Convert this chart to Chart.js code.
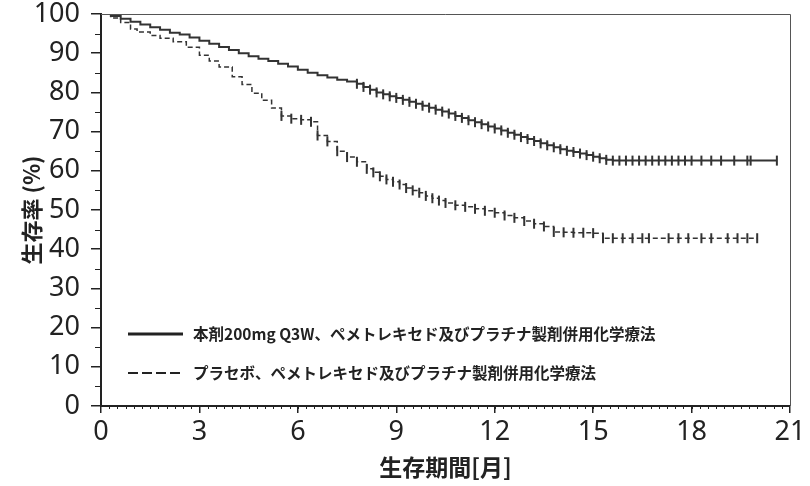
<!DOCTYPE html>
<html>
<head>
<meta charset="utf-8">
<script src="https://cdn.jsdelivr.net/npm/chart.js@4"></script>
<style>
  html, body { margin: 0; background: #fff; }
  #wrap { width: 810px; height: 486px; }
</style>
</head>
<body>
<div id="wrap"><canvas id="km"></canvas></div>
<script>
// months / survival %
const monthsDrug = [0, 0.3, 0.6, 0.9, 1.2, 1.5, 1.8, 2.1, 2.4, 2.7, 3.0, 3.3, 3.6, 3.9, 4.2, 4.5, 4.8, 5.1, 5.4, 5.7,
    6.0, 6.3, 6.6, 6.9, 7.2, 7.5, 7.8, 8.0, 8.2, 8.4, 8.6, 8.8, 9.0, 9.2, 9.4, 9.6, 9.8, 10.0, 10.2, 10.4, 10.6,
    10.8, 11.0, 11.2, 11.4, 11.6, 11.8, 12.0, 12.2, 12.4, 12.6, 12.8, 13.0, 13.2, 13.4, 13.6, 13.8, 14.0, 14.2,
    14.4, 14.6, 14.8, 15.0, 15.2, 15.4, 15.6, 15.8, 16.0, 16.2, 16.4, 16.6, 16.8, 17.0, 17.2, 17.4, 17.6, 17.8,
    18.0, 18.3, 18.6, 18.9, 19.3, 19.7, 19.8, 20.6];
const survDrug = [100, 99.5, 98.8, 98.0, 97.3, 96.6, 96.0, 95.2, 94.8, 94.0, 93.2, 92.4, 91.6, 90.8, 90.0, 89.2, 88.6, 88.0, 87.3, 86.6,
    85.8, 85.0, 84.4, 83.8, 83.2, 82.8, 82.2, 81.4, 80.7, 80.0, 79.5, 79.0, 78.6, 78.1, 77.6, 77.1, 76.6, 76.1, 75.6, 75.1, 74.6,
    74.0, 73.5, 72.9, 72.4, 71.9, 71.3, 70.8, 70.3, 69.7, 69.2, 68.6, 68.1, 67.6, 67.0, 66.5, 66.0, 65.5, 65.1,
    64.8, 64.4, 64.0, 63.6, 63.2, 62.8, 62.6, 62.6, 62.6, 62.6, 62.6, 62.6, 62.6, 62.6, 62.6, 62.6, 62.6, 62.6,
    62.6, 62.6, 62.6, 62.6, 62.6, 62.6, 62.6, 62.6];

const monthsPlacebo = [0, 0.3, 0.6, 0.9, 1.1, 1.5, 1.8, 2.2, 2.6, 3.0, 3.3, 3.6, 4.0, 4.3, 4.6, 4.9, 5.2, 5.5, 5.8, 6.1,
    6.4, 6.6, 6.9, 7.2, 7.5, 7.8, 8.1, 8.3, 8.5, 8.7, 8.9, 9.1, 9.3, 9.5, 9.7, 9.9, 10.1, 10.3, 10.5, 10.8, 11.1,
    11.4, 11.7, 12.0, 12.3, 12.6, 12.9, 13.2, 13.5, 13.8, 14.1, 14.4, 14.7, 15.0, 15.3, 15.6, 15.9, 16.2, 16.5,
    16.7, 17.3, 17.6, 17.9, 18.3, 18.6, 19.1, 19.4, 19.7, 20.0];
const survPlacebo = [100, 99.0, 97.8, 96.2, 95.4, 94.5, 93.8, 92.9, 91.5, 89.5, 88.0, 86.5, 84.0, 82.0, 79.8, 78.0, 76.0, 74.0, 73.3, 73.0,
    72.5, 69.0, 67.5, 65.0, 63.5, 62.3, 60.5, 59.6, 58.6, 57.8, 57.2, 56.5, 55.6, 55.0, 54.4, 53.6, 53.0, 52.4, 51.8, 51.2, 50.8,
    50.3, 49.8, 49.3, 48.6, 48.0, 47.2, 46.5, 45.8, 44.4, 44.3, 44.2, 44.2, 44.1, 42.8, 42.8, 42.8, 42.8, 42.8,
    42.8, 42.8, 42.8, 42.8, 42.8, 42.8, 42.8, 42.8, 42.8, 42.8];

const seriesLabels = [
    '本剤200mg Q3W、ペメトレキセド及びプラチナ製剤併用化学療法',
    'プラセボ、ペメトレキセド及びプラチナ製剤併用化学療法',
];
const xTitle = '生存期間[月]';
const yTitle = '生存率 (%)';

const INK = '#222222';
const LINE = '#333333';

const toXY = (xs, ys) => xs.map((x, i) => ({ x, y: ys[i] }));

// frame, minor ticks and in-plot legend
const decorations = {
    id: 'decorations',
    afterDraw(chart) {
        const { ctx, chartArea: a, scales: { x, y } } = chart;
        ctx.save();
        ctx.strokeStyle = '#555';
        ctx.lineWidth = 1;
        ctx.beginPath();
        ctx.moveTo(a.left, a.top + 0.5); ctx.lineTo(a.right + 0.5, a.top + 0.5);
        ctx.lineTo(a.right + 0.5, a.bottom);
        ctx.stroke();

        ctx.strokeStyle = INK;
        ctx.beginPath();
        for (let v = 5; v < 100; v += 10) {
            const py = Math.round(y.getPixelForValue(v)) + 0.5;
            ctx.moveTo(a.left - 6, py); ctx.lineTo(a.left, py);
        }
        for (let m = 0.25; m < 21; m += 0.25) {
            const px = Math.round(x.getPixelForValue(m)) + 0.5;
            ctx.moveTo(px, a.bottom); ctx.lineTo(px, a.bottom + 3);
        }
        ctx.stroke();

        // legend
        const lx = a.left + 27, lw = 55;
        const rows = [a.bottom - 72, a.bottom - 33];
        ctx.font = 'bold 15.5px "Noto Sans CJK JP"';
        ctx.fillStyle = INK;
        ctx.textBaseline = 'middle';
        rows.forEach((ry, i) => {
            ctx.beginPath();
            ctx.lineWidth = i === 0 ? 3 : 2;
            ctx.setLineDash(i === 0 ? [] : [10, 4]);
            ctx.moveTo(lx, ry); ctx.lineTo(lx + lw, ry);
            ctx.stroke();
            ctx.setLineDash([]);
            ctx.fillText(seriesLabels[i], lx + lw + 10, ry);
        });
        ctx.restore();
    },
};

new Chart(document.getElementById('km'), {
    type: 'line',
    data: {
        datasets: [
            {
                label: seriesLabels[0],
                data: toXY(monthsDrug, survDrug),
                stepped: true,
                borderColor: LINE,
                borderWidth: 2,
                pointStyle: 'line',
                rotation: 90,
                pointRadius: (c) => (c.raw && c.raw.x >= 7.8 ? 5 : 0),
                pointBorderColor: LINE,
                pointBorderWidth: 2,
            },
            {
                label: seriesLabels[1],
                data: toXY(monthsPlacebo, survPlacebo),
                stepped: true,
                borderColor: LINE,
                borderWidth: 1.5,
                borderDash: [5, 3],
                pointStyle: 'line',
                rotation: 90,
                pointRadius: (c) => (c.raw && c.raw.x >= 5.5 ? 5 : 0),
                pointBorderColor: LINE,
                pointBorderWidth: 2,
            },
        ],
    },
    options: {
        responsive: true,
        maintainAspectRatio: false,
        animation: false,
        layout: { padding: { top: 14, right: 20, left: 0, bottom: 0 } },
        plugins: {
            legend: { display: false },
            tooltip: { enabled: false },
        },
        scales: {
            x: {
                type: 'linear',
                min: 0,
                max: 21,
                afterFit: (s) => { s.height = 80; },
                border: { color: INK, width: 2 },
                grid: { drawOnChartArea: false, tickLength: 7, color: INK, lineWidth: 1.5 },
                ticks: {
                    stepSize: 3,
                    padding: 3,
                    color: INK,
                    font: { family: '"Noto Sans"', size: 27 },
                    maxRotation: 0,
                },
                title: {
                    display: true,
                    text: xTitle,
                    color: INK,
                    font: { family: '"Noto Sans CJK JP"', size: 23, weight: 'bold' },
                    padding: { top: 0, bottom: 5 },
                },
            },
            y: {
                min: 0,
                max: 100,
                afterFit: (s) => { s.width = 101; s.paddingTop = 0; s.paddingBottom = 0; },
                border: { color: INK, width: 2 },
                grid: { drawOnChartArea: false, tickLength: 10, color: INK, lineWidth: 1.5 },
                ticks: {
                    stepSize: 10,
                    padding: 11,
                    color: INK,
                    font: { family: '"Noto Sans"', size: 27 },
                },
                title: {
                    display: true,
                    text: yTitle,
                    color: INK,
                    font: { family: '"Noto Sans CJK JP"', size: 22, weight: 'bold' },
                    padding: { top: 18, bottom: 0 },
                },
            },
        },
    },
    plugins: [decorations],
});
</script>
</body>
</html>
